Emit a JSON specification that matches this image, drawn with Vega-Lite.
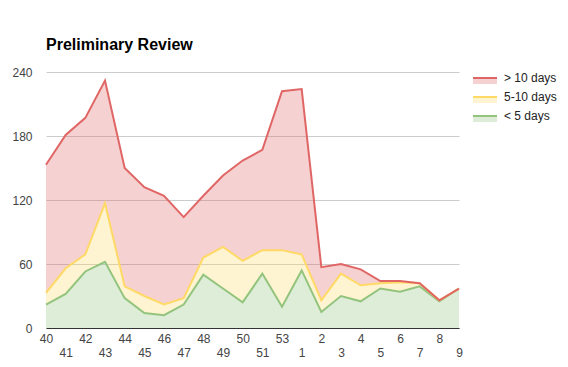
{
  "$schema": "https://vega.github.io/schema/vega-lite/v6.json",
  "width": 413,
  "height": 256,
  "autosize": "none",
  "padding": {"left": 46, "top": 72, "right": 109, "bottom": 39},
  "background": "#ffffff",
  "title": {
    "text": "Preliminary Review",
    "anchor": "start",
    "frame": "group",
    "font": "Liberation Sans",
    "fontSize": 16,
    "fontWeight": "bold",
    "color": "#000000",
    "baseline": "alphabetic",
    "offset": 0
  },
  "config": {
    "view": {"stroke": null},
    "font": "Liberation Sans"
  },
  "data": {
    "values": [
      {"week": "40", "band": "< 5 days", "count": 22}, {"week": "40", "band": "5-10 days", "count": 11}, {"week": "40", "band": "> 10 days", "count": 120},
      {"week": "41", "band": "< 5 days", "count": 32}, {"week": "41", "band": "5-10 days", "count": 24}, {"week": "41", "band": "> 10 days", "count": 125},
      {"week": "42", "band": "< 5 days", "count": 53}, {"week": "42", "band": "5-10 days", "count": 16}, {"week": "42", "band": "> 10 days", "count": 128},
      {"week": "43", "band": "< 5 days", "count": 62}, {"week": "43", "band": "5-10 days", "count": 55}, {"week": "43", "band": "> 10 days", "count": 115},
      {"week": "44", "band": "< 5 days", "count": 28}, {"week": "44", "band": "5-10 days", "count": 11}, {"week": "44", "band": "> 10 days", "count": 111},
      {"week": "45", "band": "< 5 days", "count": 14}, {"week": "45", "band": "5-10 days", "count": 16}, {"week": "45", "band": "> 10 days", "count": 102},
      {"week": "46", "band": "< 5 days", "count": 12}, {"week": "46", "band": "5-10 days", "count": 10}, {"week": "46", "band": "> 10 days", "count": 102},
      {"week": "47", "band": "< 5 days", "count": 22}, {"week": "47", "band": "5-10 days", "count": 6}, {"week": "47", "band": "> 10 days", "count": 76},
      {"week": "48", "band": "< 5 days", "count": 50}, {"week": "48", "band": "5-10 days", "count": 16}, {"week": "48", "band": "> 10 days", "count": 58},
      {"week": "49", "band": "< 5 days", "count": 37}, {"week": "49", "band": "5-10 days", "count": 39}, {"week": "49", "band": "> 10 days", "count": 67},
      {"week": "50", "band": "< 5 days", "count": 24}, {"week": "50", "band": "5-10 days", "count": 39}, {"week": "50", "band": "> 10 days", "count": 94},
      {"week": "51", "band": "< 5 days", "count": 51}, {"week": "51", "band": "5-10 days", "count": 22}, {"week": "51", "band": "> 10 days", "count": 94},
      {"week": "53", "band": "< 5 days", "count": 20}, {"week": "53", "band": "5-10 days", "count": 53}, {"week": "53", "band": "> 10 days", "count": 149},
      {"week": "1", "band": "< 5 days", "count": 54}, {"week": "1", "band": "5-10 days", "count": 15}, {"week": "1", "band": "> 10 days", "count": 155},
      {"week": "2", "band": "< 5 days", "count": 15}, {"week": "2", "band": "5-10 days", "count": 11}, {"week": "2", "band": "> 10 days", "count": 31},
      {"week": "3", "band": "< 5 days", "count": 30}, {"week": "3", "band": "5-10 days", "count": 21}, {"week": "3", "band": "> 10 days", "count": 9},
      {"week": "4", "band": "< 5 days", "count": 25}, {"week": "4", "band": "5-10 days", "count": 15}, {"week": "4", "band": "> 10 days", "count": 15},
      {"week": "5", "band": "< 5 days", "count": 37}, {"week": "5", "band": "5-10 days", "count": 5}, {"week": "5", "band": "> 10 days", "count": 2},
      {"week": "6", "band": "< 5 days", "count": 34}, {"week": "6", "band": "5-10 days", "count": 9}, {"week": "6", "band": "> 10 days", "count": 1},
      {"week": "7", "band": "< 5 days", "count": 39}, {"week": "7", "band": "5-10 days", "count": 3}, {"week": "7", "band": "> 10 days", "count": 0},
      {"week": "8", "band": "< 5 days", "count": 25}, {"week": "8", "band": "5-10 days", "count": 1}, {"week": "8", "band": "> 10 days", "count": 0},
      {"week": "9", "band": "< 5 days", "count": 37}, {"week": "9", "band": "5-10 days", "count": 0}, {"week": "9", "band": "> 10 days", "count": 0}
    ]
  },
  "transform": [
    {"calculate": "indexof(['< 5 days', '5-10 days', '> 10 days'], datum.band)", "as": "stackOrder"}
  ],
  "mark": {
    "type": "area",
    "fillOpacity": 0.3,
    "interpolate": "linear",
    "line": {"strokeWidth": 2}
  },
  "encoding": {
    "x": {
      "field": "week",
      "type": "ordinal",
      "scale": {
        "domain": ["40","41","42","43","44","45","46","47","48","49","50","51","53","1","2","3","4","5","6","7","8","9"],
        "padding": 0
      },
      "axis": {
        "title": null,
        "labelAngle": 0,
        "ticks": false,
        "tickSize": 0,
        "grid": false,
        "domain": true,
        "domainColor": "#333333",
        "domainWidth": 1,
        "labelFont": "Liberation Sans",
        "labelFontSize": 12,
        "labelColor": "#444444",
        "labelOverlap": false,
        "labelPadding": {
          "condition": {"test": "indexof(['41','43','45','47','49','51','1','3','5','7','9'], datum.value) >= 0", "value": 19},
          "value": 5
        }
      }
    },
    "y": {
      "field": "count",
      "type": "quantitative",
      "stack": "zero",
      "scale": {"domain": [0, 240], "nice": false},
      "axis": {
        "title": null,
        "values": [0, 60, 120, 180, 240],
        "ticks": false,
        "tickSize": 0,
        "domain": false,
        "grid": true,
        "gridColor": "#cccccc",
        "gridWidth": 1,
        "labelFont": "Liberation Sans",
        "labelFontSize": 12,
        "labelColor": "#444444",
        "labelPadding": 14
      }
    },
    "color": {
      "field": "band",
      "type": "nominal",
      "scale": {
        "domain": ["> 10 days", "5-10 days", "< 5 days"],
        "range": ["#e06666", "#ffd966", "#93c47d"]
      },
      "legend": {
        "title": null,
        "orient": "none",
        "direction": "vertical",
        "columns": 1,
        "legendX": 426,
        "legendY": 0,
        "symbolType": "M-1,0L3.8,0L3.8,1.2L-1,1.2Z",
        "symbolSize": 100,
        "labelFont": "Liberation Sans",
        "labelFontSize": 12,
        "labelColor": "#222222",
        "labelOffset": 20,
        "rowPadding": 3,
        "encode": {
          "symbols": {
            "update": {
              "fill": {"scale": "color", "field": "value"},
              "fillOpacity": {"value": 0.3},
              "stroke": {"scale": "color", "field": "value"},
              "strokeWidth": {"value": 2},
              "strokeDash": {"value": [24, 41]},
              "opacity": {"value": 1}
            }
          }
        }
      }
    },
    "order": {"field": "stackOrder", "type": "quantitative"}
  }
}
